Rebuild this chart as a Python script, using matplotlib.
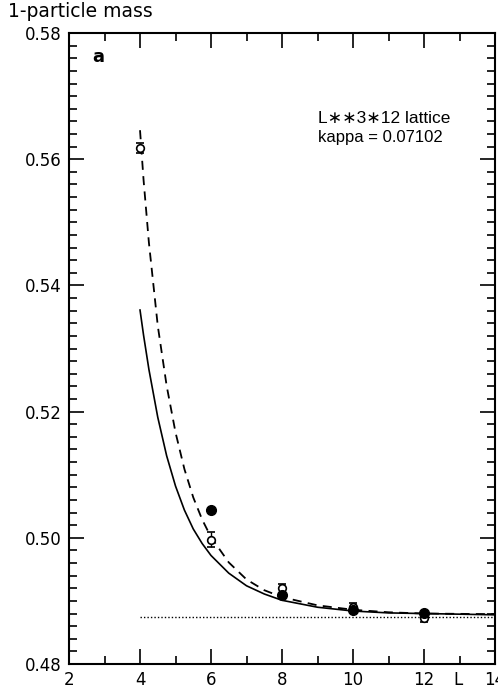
import matplotlib
matplotlib.use("Agg")
import matplotlib.pyplot as plt
from matplotlib.ticker import MultipleLocator, FormatStrFormatter

# Measured masses, open symbols with error bars
L_open = [4, 6, 8, 10, 12]
m_open = [0.5618, 0.4997, 0.4920, 0.4890, 0.4873]
err_open = [0.0008, 0.0012, 0.0007, 0.0006, 0.0007]

# Measured masses, filled symbols
L_filled = [6, 8, 10, 12]
m_filled = [0.5044, 0.4909, 0.4886, 0.4881]

# Finite-size fit curves
L_dashed = [4.0, 4.1, 4.25, 4.5, 4.75, 5.0, 5.25, 5.5, 5.75, 6.0, 6.5, 7.0,
            7.5, 8.0, 9.0, 10.0, 11.0, 12.0, 14.0]
m_dashed = [0.5646, 0.5567, 0.5468, 0.5336, 0.5241, 0.5167, 0.5109, 0.5064,
            0.5029, 0.5001, 0.4961, 0.4934, 0.4917, 0.4906, 0.4893, 0.4886,
            0.4882, 0.4880, 0.4879]

L_solid = [4.0, 4.1, 4.25, 4.5, 4.75, 5.0, 5.25, 5.5, 5.75, 6.0, 6.5, 7.0,
           7.5, 8.0, 9.0, 10.0, 11.0, 12.0, 14.0]
m_solid = [0.5361, 0.5321, 0.5267, 0.5191, 0.5130, 0.5082, 0.5044, 0.5014,
           0.4991, 0.4972, 0.4944, 0.4924, 0.4911, 0.4901, 0.4890, 0.4884,
           0.4881, 0.4880, 0.4878]

# Infinite-volume mass
L_inf = [4, 14]
m_inf = [0.4874, 0.4874]

fig = plt.figure(figsize=(4.98, 6.94), dpi=100)
ax = fig.add_axes([0.1386, 0.0432, 0.994 - 0.1386, 0.9524 - 0.0432])

ax.plot(L_dashed, m_dashed, color="black", lw=1.3, ls=(0, (5, 3.5)))
ax.plot(L_solid, m_solid, color="black", lw=1.2)
ax.plot(L_inf, m_inf, color="black", lw=1.0, ls=(0, (1, 1.5)))

ax.errorbar(L_open, m_open, yerr=err_open, fmt="o", ms=5.5, mfc="white",
            mec="black", mew=1.2, ecolor="black", elinewidth=1.0,
            capsize=3, capthick=1.2, zorder=4)
ax.plot(L_filled, m_filled, "o", ms=7, color="black", zorder=5)

ax.set_xlim(2, 14)
ax.set_ylim(0.48, 0.58)
ax.xaxis.set_major_locator(MultipleLocator(2))
ax.xaxis.set_minor_locator(MultipleLocator(1))
ax.yaxis.set_major_locator(MultipleLocator(0.02))
ax.yaxis.set_minor_locator(MultipleLocator(0.002))
ax.yaxis.set_major_formatter(FormatStrFormatter("%.2f"))

ax.tick_params(which="both", direction="in", top=True, right=True,
               labelsize=12, width=1.2, pad=5)
ax.tick_params(which="major", length=11)
ax.tick_params(which="minor", length=6)
for s in ax.spines.values():
    s.set_linewidth(1.5)

label_fonts = ["Liberation Sans", "DejaVu Sans"]
fig.text(0.016, 0.983, "1-particle mass", fontsize=13.5, ha="left",
         va="center")
ax.text(0.055, 0.962, "a", transform=ax.transAxes, fontsize=13,
        fontweight="bold", ha="left", va="center")
ax.text(0.585, 0.864, "L\u2217\u22173\u221712 lattice", transform=ax.transAxes,
        fontsize=12.5, family=label_fonts, ha="left", va="center")
ax.text(0.585, 0.835, "kappa = 0.07102", transform=ax.transAxes,
        fontsize=12, family=label_fonts, ha="left", va="center")
ax.annotate("L", xy=(12.95, 0.48), xytext=(0, -5), textcoords="offset points",
            fontsize=12, ha="center", va="top")

fig.savefig("out.png", dpi=100)
